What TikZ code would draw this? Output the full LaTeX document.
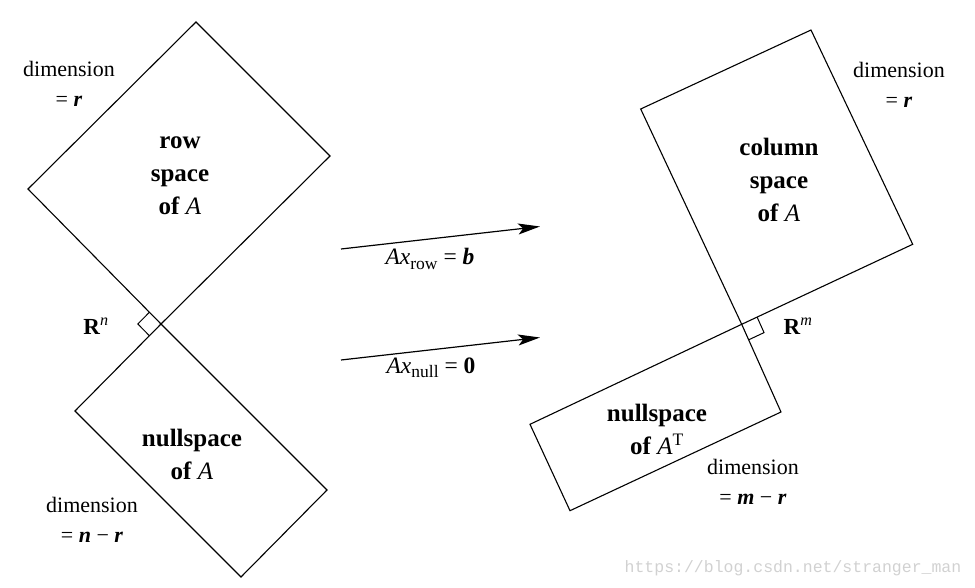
\documentclass[tikz,border=0pt]{standalone}
\usepackage{fontspec}
\setmainfont{Liberation Serif}
\newfontfamily\wmfont{Liberation Mono}
\usetikzlibrary{arrows.meta,calc}
\begin{document}
\begin{tikzpicture}[x=1pt,y=-1pt,
  edge/.style={line width=1.1pt, line join=miter},
  marker/.style={line width=1.0pt},
  maparrow/.style={line width=1.2pt,-{Stealth[length=22pt,width=11pt,inset=5pt]}},
  dimlbl/.style={align=center, font=\fontsize{22}{30}\selectfont, inner sep=0pt},
  spacelbl/.style={align=center, font=\fontsize{25}{33}\selectfont\bfseries, inner sep=0pt},
  maplbl/.style={font=\fontsize{23.5}{23.5}\selectfont, inner sep=0pt},
  rlbl/.style={font=\fontsize{23}{23}\selectfont, inner sep=0pt},
  wm/.style={font=\wmfont\fontsize{16.5}{16.5}\selectfont, text=black!18, inner sep=0pt}
]
\useasboundingbox (0,0) rectangle (975,588);
% left figure
\coordinate (P) at (161,324);
\coordinate (rsL) at (28,189);
\coordinate (rsT) at (196,22);
\coordinate (rsR) at (330,156);
\coordinate (nsL) at (75,411);
\coordinate (nsB) at (241,577);
\coordinate (nsR) at (327,490);
\draw[edge] (P) -- (rsL) -- (rsT) -- (rsR) -- cycle;
\draw[edge] (P) -- (nsL) -- (nsB) -- (nsR) -- cycle;
\coordinate (pm1) at ($(P)!16.5pt!(rsL)$);
\coordinate (pm2) at ($(P)!16.5pt!(nsL)$);
\draw[marker] (pm1) -- ($(pm1)+(pm2)-(P)$) -- (pm2);
% right figure
\coordinate (Q) at (741.7,324.3);
\coordinate (csL) at (640.7,109);
\coordinate (csT) at (811,30);
\coordinate (csR) at (912.7,244.3);
\coordinate (ntL) at (530,424.3);
\coordinate (ntB) at (570,510.7);
\coordinate (ntR) at (781,412);
\draw[edge] (Q) -- (csL) -- (csT) -- (csR) -- cycle;
\draw[edge] (Q) -- (ntL) -- (ntB) -- (ntR) -- cycle;
\coordinate (qm1) at ($(Q)!17pt!(csR)$);
\coordinate (qm2) at ($(Q)!17pt!(ntR)$);
\draw[marker] (qm1) -- ($(qm1)+(qm2)-(Q)$) -- (qm2);
% arrows
\coordinate (a1s) at (341,249);
\coordinate (a1e) at (540,226.5);
\coordinate (a2s) at (341,360);
\coordinate (a2e) at (540,337.5);
\draw[maparrow] (a1s) -- (a1e);
\draw[maparrow] (a2s) -- (a2e);
% labels
\node[dimlbl] (dimTL) at (69,84) {dimension\\= \textbf{\textit{r}}};
\node[spacelbl] (rowlbl) at (180,176) {row\\space\\of \textmd{\textit{A}}};
\node[rlbl] (Rn) at (96,326) {\textbf{R}\textsuperscript{\textit{n}}};
\node[spacelbl] (nulllbl) at (192,454) {nullspace\\of \textmd{\textit{A}}};
\node[dimlbl] (dimBL) at (92,520) {dimension\\= \textbf{\textit{n}} − \textbf{\textit{r}}};
\node[dimlbl] (dimTR) at (899,85) {dimension\\= \textbf{\textit{r}}};
\node[spacelbl] (collbl) at (779,180) {column\\space\\of \textmd{\textit{A}}};
\node[rlbl] (Rm) at (798,326) {\textbf{R}\textsuperscript{\textit{m}}};
\node[spacelbl] (nullTlbl) at (657,429) {nullspace\\of \textmd{\textit{A}\textsuperscript{T}}};
\node[dimlbl] (dimBR) at (753,482) {dimension\\= \textbf{\textit{m}} − \textbf{\textit{r}}};
\node[maplbl] (lrow) at (430,259) {\textit{Ax}\raisebox{-0.4ex}{\fontsize{17.5}{17.5}\selectfont row} = \textbf{\textit{b}}};
\node[maplbl] (lnull) at (431,368) {\textit{Ax}\raisebox{-0.4ex}{\fontsize{17.5}{17.5}\selectfont null} = \textbf{0}};
\node[wm] (wmark) at (793,568) {https://blog.csdn.net/stranger\_man};
\end{tikzpicture}
\end{document}
